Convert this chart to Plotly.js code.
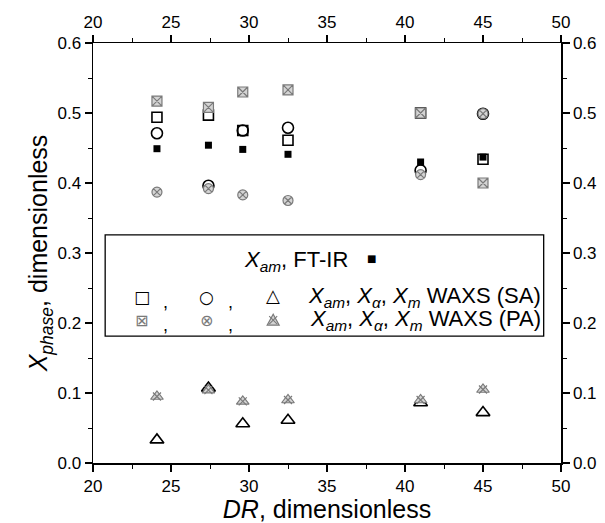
<!DOCTYPE html>
<html>
<head>
<meta charset="utf-8">
<script src="https://cdn.plot.ly/plotly-3.0.1.min.js"></script>
<style>html,body{margin:0;padding:0;background:#fff}#chart{width:605px;height:523px}</style>
</head>
<body>
<div id="chart"></div>
<script>
// ---- data ----
const DR          = [24.1, 27.4, 29.6, 32.5, 41.0, 45.0];
const XamFTIR     = [0.449, 0.454, 0.448, 0.441, 0.430, 0.437];
const XamSA       = [0.494, 0.497, 0.475, 0.461, 0.500, 0.434];
const XalphaSA    = [0.471, 0.396, 0.475, 0.479, 0.418, 0.499];
const XmSA        = [0.033, 0.107, 0.056, 0.061, 0.086, 0.072];
const XamPA       = [0.517, 0.508, 0.530, 0.533, 0.500, 0.400];
const XalphaPA    = [0.387, 0.392, 0.383, 0.375, 0.412, 0.499];
const XmPA        = [0.095, 0.104, 0.088, 0.090, 0.090, 0.105];
const xTicks      = [20, 25, 30, 35, 40, 45, 50];
const yTicks      = [0.0, 0.1, 0.2, 0.3, 0.4, 0.5, 0.6];

const FONT = 'Liberation Sans, Arial, Helvetica, sans-serif';
const PAfill = '#d4d4d4', PAline = '#7a7a7a';

function sa(y, sym, size){
  return {x: DR, y: y, type:'scatter', mode:'markers', showlegend:false, hoverinfo:'skip',
    marker:{symbol:sym, size:size, color:'#000', line:{color:'#000', width:1.6}}};
}
function pa(y, sym, size){
  return {x: DR, y: y, type:'scatter', mode:'markers', showlegend:false, hoverinfo:'skip',
    marker:{symbol:sym, size:size, color:PAfill, line:{color:PAline, width:1.2}}};
}

const traces = [
  sa(XamSA, 'square-open', 10),
  sa(XalphaSA, 'circle-open', 11),
  sa(XmSA, 'triangle-up-open', 12),
  pa(XamPA, 'square-x', 10),
  pa(XalphaPA, 'circle-x', 10),
  pa(XmPA, 'triangle-up', 11),
  {x: DR, y: XmPA, type:'scatter', mode:'markers', showlegend:false, hoverinfo:'skip',
    marker:{symbol:'x-thin-open', size:8, color:PAline, line:{color:PAline, width:1.2}}},
  {x: DR, y: XamFTIR, type:'scatter', mode:'markers', showlegend:false, hoverinfo:'skip',
    marker:{symbol:'square', size:7, color:'#000'}},
  // invisible trace to bind the top/right mirror axes
  {x: DR, y: XamFTIR, xaxis:'x2', yaxis:'y2', type:'scatter', mode:'markers', showlegend:false,
    hoverinfo:'skip', marker:{opacity:0}}
];

const axBase = {
  showgrid:false, zeroline:false, showline:true, linecolor:'#000', linewidth:1.5,
  ticks:'outside', ticklen:7, tickwidth:1.2, tickcolor:'#000',
  tickfont:{family:FONT, size:17, color:'#000'},
  minor:{ticks:'outside', ticklen:4, tickwidth:1, tickcolor:'#000'}
};

// legend geometry (paper coords)
const L = {x0:0.026, x1:0.963, y0:0.302, y1:0.543};
const r1 = 0.480, r2 = 0.396, r3 = 0.340;
const sx = [0.104, 0.242, 0.385];
const cx = [0.155, 0.293];

function ann(x, y, text, opts){
  return Object.assign({xref:'paper', yref:'paper', x:x, y:y, text:text, showarrow:false,
    xanchor:'center', yanchor:'middle', font:{family:FONT, size:22, color:'#000'}}, opts||{});
}
const symFont = (c, s) => ({family:'DejaVu Sans', size:s, color:c});
const comma = {font:{family:FONT, size:18, color:'#000'}};

const annotations = [
  ann(0.434, r1, '<i>X</i><sub><i>am</i></sub>, FT-IR'),
  ann(0.595, r1+0.006, '■', {font:symFont('#000', 10)}),
  ann(sx[0], r2, '□', {font:symFont('#000', 17)}),
  ann(cx[0], r2-0.012, ',', comma),
  ann(sx[1], r2, '○', {font:symFont('#000', 17)}),
  ann(cx[1], r2-0.012, ',', comma),
  ann(sx[2], r2+0.004, '△', {font:symFont('#000', 18)}),
  ann(0.962, r2, '<i>X</i><sub><i>am</i></sub>, <i>X</i><sub><i>α</i></sub>, <i>X</i><sub><i>m</i></sub> WAXS (SA)', {xanchor:'right'}),
  ann(sx[0], r3, '⊠', {font:symFont(PAline, 16)}),
  ann(cx[0], r3-0.012, ',', comma),
  ann(sx[1], r3, '⊗', {font:symFont(PAline, 16)}),
  ann(cx[1], r3-0.012, ',', comma),
  ann(0.962, r3, '<i>X</i><sub><i>am</i></sub>, <i>X</i><sub><i>α</i></sub>, <i>X</i><sub><i>m</i></sub> WAXS (PA)', {xanchor:'right'})
];

const layout = {
  width:605, height:523,
  margin:{l:93, r:44, t:43, b:60},
  paper_bgcolor:'#fff', plot_bgcolor:'#fff',
  font:{family:FONT, color:'#000'},
  xaxis: Object.assign({}, axBase, {range:[20,50], tickvals:xTicks, minor:Object.assign({}, axBase.minor, {dtick:2.5}),
    title:{text:'<i>DR</i>, dimensionless', font:{family:FONT, size:25, color:'#000'}, standoff:0}}),
  xaxis2: Object.assign({}, axBase, {range:[20,50], tickvals:xTicks, overlaying:'x', side:'top', anchor:'y',
    minor:Object.assign({}, axBase.minor, {dtick:2.5})}),
  yaxis: Object.assign({}, axBase, {range:[0,0.6], tickvals:yTicks, tickformat:'.1f',
    minor:Object.assign({}, axBase.minor, {dtick:0.05}),
    title:{text:'<i>X</i><sub><i>phase</i></sub>, dimensionless', font:{family:FONT, size:25, color:'#000'}, standoff:2}}),
  yaxis2: Object.assign({}, axBase, {range:[0,0.6], tickvals:yTicks, tickformat:'.1f', overlaying:'y', side:'right', anchor:'x',
    minor:Object.assign({}, axBase.minor, {dtick:0.05})}),
  shapes:[
    {type:'rect', xref:'paper', yref:'paper', x0:L.x0, x1:L.x1, y0:L.y0, y1:L.y1,
      line:{color:'#000', width:1.3}, fillcolor:'#fff', layer:'above'},
    // legend key for the PA triangle (triangle with cross), sized in pixels
    {type:'path', xref:'paper', yref:'paper', xsizemode:'pixel', ysizemode:'pixel',
      xanchor:sx[2], yanchor:r3, layer:'above',
      path:'M -6,-5 L 6,-5 L 0,6 Z', fillcolor:PAfill, line:{color:PAline, width:1.2}},
    {type:'path', xref:'paper', yref:'paper', xsizemode:'pixel', ysizemode:'pixel',
      xanchor:sx[2], yanchor:r3, layer:'above',
      path:'M -4,-4 L 4,4 M 4,-4 L -4,4', line:{color:PAline, width:1.1}}
  ],
  annotations: annotations
};

Plotly.newPlot('chart', traces, layout, {staticPlot:true, displayModeBar:false});
</script>
</body>
</html>
